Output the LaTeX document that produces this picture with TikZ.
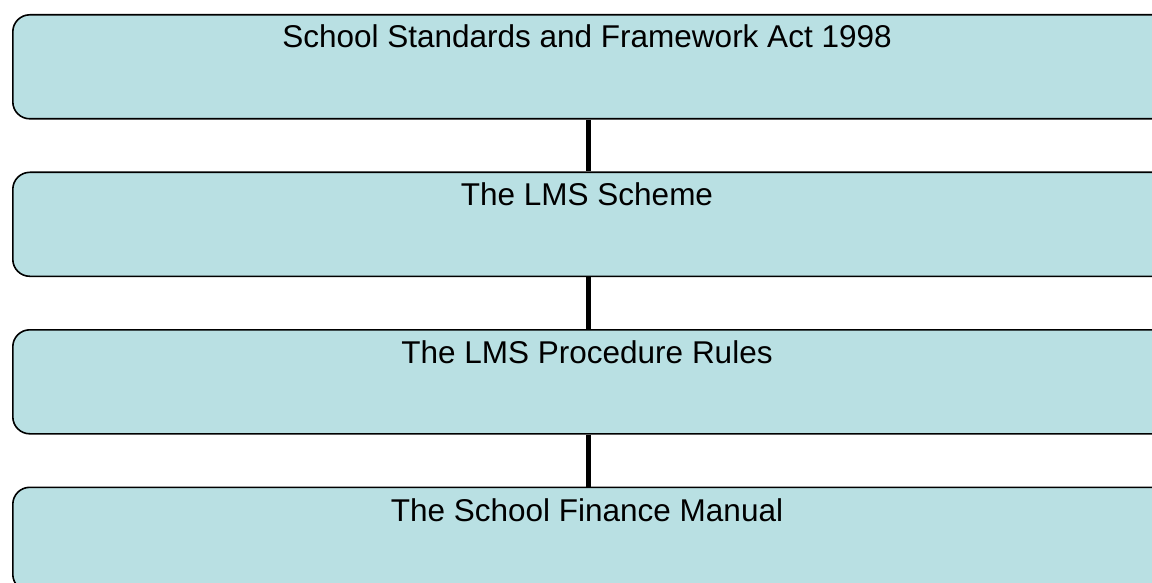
\documentclass[tikz,border=0pt]{standalone}
\usepackage{fontspec}
\setmainfont{Liberation Sans}
\definecolor{boxfill}{HTML}{B9E0E3}
\begin{document}
\begin{tikzpicture}[x=1pt,y=-1pt,
  lawbox/.style={draw=black, line width=1.6pt, fill=boxfill, rounded corners=17pt,
    minimum width=1180pt, minimum height=104pt, anchor=north west, inner sep=0pt},
  lbl/.style={font=\fontsize{31.5}{36}\selectfont, anchor=base},
  link/.style={line width=5pt, draw=black}]
\useasboundingbox (0,0) rectangle (1152,583);
\begin{scope}
\clip (0,0) rectangle (1152,583);
\node[lawbox] (b1) at (12,14) {};
\node[lawbox] (b2) at (12,171.5) {};
\node[lawbox] (b3) at (12,329) {};
\node[lawbox] (b4) at (12,486.5) {};
\coordinate (cx) at (588,0);
\draw[link] (b1.south -| cx) -- (b2.north -| cx);
\draw[link] (b2.south -| cx) -- (b3.north -| cx);
\draw[link] (b3.south -| cx) -- (b4.north -| cx);
\end{scope}
\node[lbl] (t1) at (587,48) {School Standards and Framework Act 1998};
\node[lbl] (t2) at (587,206) {The LMS Scheme};
\node[lbl] (t3) at (587,363.5) {The LMS Procedure Rules};
\node[lbl] (t4) at (587,521) {The School Finance Manual};
\end{tikzpicture}
\end{document}
